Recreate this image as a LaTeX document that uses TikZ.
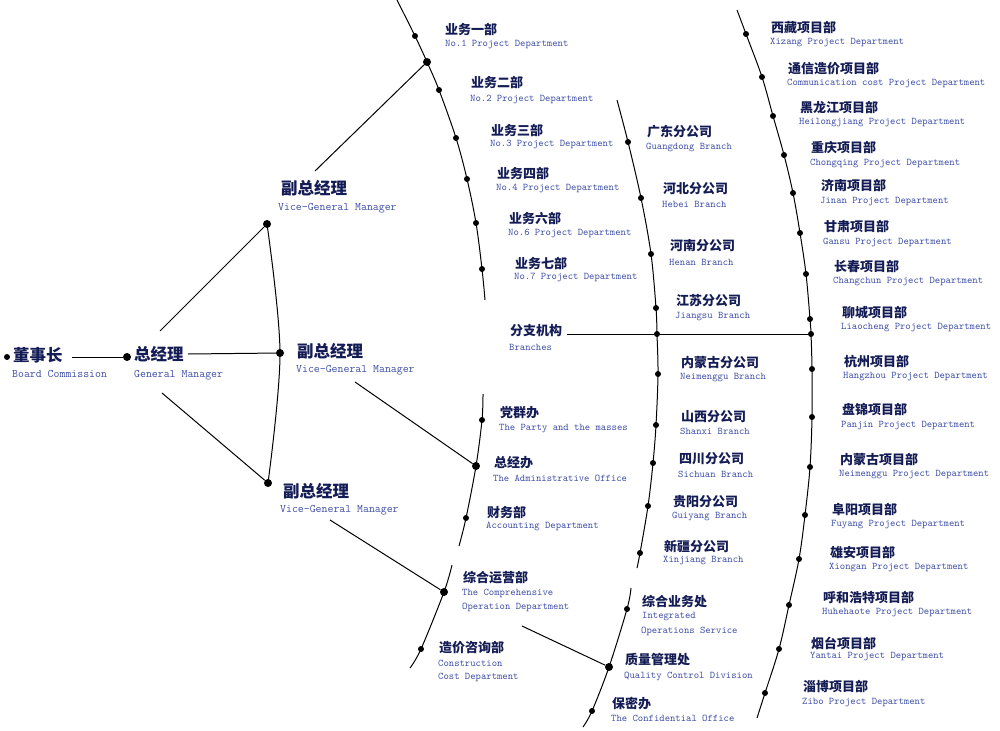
\documentclass[tikz,border=0pt]{standalone}
\usepackage{fontspec}
\newfontfamily\cjk{Noto Sans CJK SC}
\definecolor{zhc}{RGB}{20,28,85}
\definecolor{enc}{RGB}{62,78,165}
\begin{document}
\begin{tikzpicture}[x=1pt,y=-1pt,
 zh/.style={anchor=west,inner sep=0pt,font=\cjk\bfseries\fontsize{13}{13}\selectfont,text=zhc},
 zhbig/.style={anchor=west,inner sep=0pt,font=\cjk\bfseries\fontsize{16.5}{16.5}\selectfont,text=zhc},
 en/.style={anchor=west,inner sep=0pt,font=\ttfamily\fontsize{10.2}{10.2}\selectfont,text=enc},
 enbig/.style={anchor=west,inner sep=0pt,font=\ttfamily\fontsize{11.5}{11.5}\selectfont,text=enc},
 dot/.style={circle,fill=black,inner sep=0pt,minimum size=6pt},
 bigdot/.style={circle,fill=black,inner sep=0pt,minimum size=8pt},
 link/.style={line width=1pt},
 arc/.style={line width=1pt,smooth,tension=0.55}]
\useasboundingbox (0,0) rectangle (1000,730);

% ---------------- Board and general manager
\node[dot] (bdot) at (7,357) {};
\node[zhbig] (board) at (13,355) {董事长};
\node[enbig] (boarde) at (12,374) {Board Commission};
\coordinate (b1) at (72,357);
\node[bigdot] (gmdot) at (127,357) {};
\draw[link] (b1) -- (gmdot);
\node[zhbig] (gm) at (134,354) {总经理};
\node[enbig] (gme) at (134,375) {General Manager};
\coordinate (g1) at (188,354);
\coordinate (g2) at (160,331);
\coordinate (g3) at (162,393);

% ---------------- vice general managers
\node[bigdot] (v1dot) at (267,224) {};
\node[bigdot] (v2dot) at (280,353) {};
\node[bigdot] (v3dot) at (268,483) {};
\draw[arc] plot coordinates {(v1dot) (v2dot) (v3dot)};
\draw[link] (g1) -- (v2dot);
\draw[link] (g2) -- (v1dot);
\draw[link] (g3) -- (v3dot);

\node[zhbig] (vp1) at (281,188) {副总经理};
\node[enbig] (vp1e) at (278,208) {Vice-General Manager};
\node[zhbig] (vp2) at (297,351) {副总经理};
\node[enbig] (vp2e) at (296,370) {Vice-General Manager};
\node[zhbig] (vp3) at (283,491) {副总经理};
\node[enbig] (vp3e) at (280,510) {Vice-General Manager};
\coordinate (v1a) at (315,171);
\coordinate (v2a) at (355,382);
\coordinate (v3a) at (330,520);

% ---------------- business departments arc
\coordinate (ys) at (397,0);
\node[dot] (y1) at (415,36) {};
\node[bigdot] (yc) at (427,62) {};
\node[dot] (y2) at (439,90) {};
\node[dot] (y3) at (456,138) {};
\node[dot] (y4) at (467,179) {};
\node[dot] (y6) at (476,223) {};
\node[dot] (y7) at (482,269) {};
\coordinate (ye) at (485,300);
\draw[arc] plot coordinates {(ys) (y1) (yc) (y2) (y3) (y4) (y6) (y7) (ye)};
\draw[link] (v1a) -- (yc);

\node[zh] (t1) at (445,30) {业务一部};
\node[en] (t1e) at (445,44) {No.1 Project Department};
\node[zh] (t2) at (471,83) {业务二部};
\node[en] (t2e) at (470,99) {No.2 Project Department};
\node[zh] (t3) at (491,131) {业务三部};
\node[en] (t3e) at (490,144) {No.3 Project Department};
\node[zh] (t4) at (497,174) {业务四部};
\node[en] (t4e) at (496,188) {No.4 Project Department};
\node[zh] (t6) at (509,219) {业务六部};
\node[en] (t6e) at (508,233) {No.6 Project Department};
\node[zh] (t7) at (515,263) {业务七部};
\node[en] (t7e) at (514,277) {No.7 Project Department};

% ---------------- branches
\node[zh] (br) at (510,331) {分支机构};
\node[en] (bre) at (509,347) {Branches};
\coordinate (bra) at (567,334);

\coordinate (fs) at (617,100);
\node[dot] (f1) at (628,142) {};
\node[dot] (f2) at (641,198) {};
\node[dot] (f3) at (651,254) {};
\node[dot] (f4) at (656,308) {};
\node[dot] (fc) at (657,334) {};
\node[dot] (f5) at (658,374) {};
\node[dot] (f6) at (656,425) {};
\node[dot] (f7) at (653,463) {};
\node[dot] (f8) at (648,506) {};
\node[dot] (f9) at (640,553) {};
\coordinate (fe) at (637,568);
\draw[arc] plot coordinates {(fs) (f1) (f2) (f3) (f4) (fc) (f5) (f6) (f7) (f8) (f9) (fe)};

\node[zh] (s1) at (647,132) {广东分公司};
\node[en] (s1e) at (646,147) {Guangdong Branch};
\node[zh] (s2) at (663,189) {河北分公司};
\node[en] (s2e) at (662,204) {Hebei Branch};
\node[zh] (s3) at (670,246) {河南分公司};
\node[en] (s3e) at (669,262) {Henan Branch};
\node[zh] (s4) at (676,301) {江苏分公司};
\node[en] (s4e) at (675,317) {Jiangsu Branch};
\node[zh] (s5) at (681,363) {内蒙古分公司};
\node[en] (s5e) at (680,378) {Neimenggu Branch};
\node[zh] (s6) at (681,417) {山西分公司};
\node[en] (s6e) at (680,431) {Shanxi Branch};
\node[zh] (s7) at (679,459) {四川分公司};
\node[en] (s7e) at (678,474) {Sichuan Branch};
\node[zh] (s8) at (673,502) {贵阳分公司};
\node[en] (s8e) at (672,516) {Guiyang Branch};
\node[zh] (s9) at (664,547) {新疆分公司};
\node[en] (s9e) at (663,561) {Xinjiang Branch};

% ---------------- project departments (right arc)
\coordinate (ps) at (737,10);
\node[dot] (p1) at (746,34) {};
\node[dot] (p2) at (762,77) {};
\node[dot] (p3) at (773,116) {};
\node[dot] (p4) at (784,155) {};
\node[dot] (p5) at (793,193) {};
\node[dot] (p6) at (800,233) {};
\node[dot] (p7) at (806,274) {};
\node[dot] (p8) at (810,319) {};
\node[dot] (pc) at (811,334) {};
\node[dot] (p9) at (812,369) {};
\node[dot] (p10) at (812,417) {};
\node[dot] (p11) at (810,467) {};
\node[dot] (p12) at (805,515) {};
\node[dot] (p13) at (799,559) {};
\node[dot] (p14) at (789,605) {};
\node[dot] (p15) at (779,649) {};
\node[dot] (p16) at (765,693) {};
\coordinate (pe) at (757,718);
\draw[arc] plot coordinates {(ps) (p1) (p2) (p3) (p4) (p5) (p6) (p7) (p8) (pc) (p9) (p10) (p11) (p12) (p13) (p14) (p15) (p16) (pe)};
\draw[link] (bra) -- (fc) -- (pc);

\node[zh] (q1) at (771,28) {西藏项目部};
\node[en] (q1e) at (770,43) {Xizang Project Department};
\node[zh] (q2) at (788,69) {通信造价项目部};
\node[en] (q2e) at (787,83) {Communication cost Project Department};
\node[zh] (q3) at (800,108) {黑龙江项目部};
\node[en] (q3e) at (799,123) {Heilongjiang Project Department};
\node[zh] (q4) at (811,148) {重庆项目部};
\node[en] (q4e) at (810,163) {Chongqing Project Department};
\node[zh] (q5) at (821,186) {济南项目部};
\node[en] (q5e) at (820,202) {Jinan Project Department};
\node[zh] (q6) at (824,227) {甘肃项目部};
\node[en] (q6e) at (823,242) {Gansu Project Department};
\node[zh] (q7) at (834,267) {长春项目部};
\node[en] (q7e) at (833,281) {Changchun Project Department};
\node[zh] (q8) at (842,313) {聊城项目部};
\node[en] (q8e) at (841,328) {Liaocheng Project Department};
\node[zh] (q9) at (844,362) {杭州项目部};
\node[en] (q9e) at (843,377) {Hangzhou Project Department};
\node[zh] (q10) at (842,410) {盘锦项目部};
\node[en] (q10e) at (841,426) {Panjin Project Department};
\node[zh] (q11) at (840,460) {内蒙古项目部};
\node[en] (q11e) at (839,475) {Neimenggu Project Department};
\node[zh] (q12) at (832,510) {阜阳项目部};
\node[en] (q12e) at (831,525) {Fuyang Project Department};
\node[zh] (q13) at (830,553) {雄安项目部};
\node[en] (q13e) at (829,568) {Xiongan Project Department};
\node[zh] (q14) at (823,598) {呼和浩特项目部};
\node[en] (q14e) at (822,613) {Huhehaote Project Department};
\node[zh] (q15) at (811,643) {烟台项目部};
\node[en] (q15e) at (810,657) {Yantai Project Department};
\node[zh] (q16) at (803,687) {淄博项目部};
\node[en] (q16e) at (802,703) {Zibo Project Department};

% ---------------- party / admin / accounting
\coordinate (ds) at (483,394);
\node[dot] (d1) at (482,420) {};
\node[bigdot] (dc) at (476,466) {};
\node[dot] (d3) at (466,518) {};
\coordinate (de) at (459,546);
\draw[arc] plot coordinates {(ds) (d1) (dc) (d3) (de)};
\draw[link] (v2a) -- (dc);

\node[zh] (o1) at (500,413) {党群办};
\node[en] (o1e) at (499,429) {The Party and the masses};
\node[zh] (o2) at (494,463) {总经办};
\node[en] (o2e) at (493,478) {The Administrative Office};
\node[zh] (o3) at (487,512) {财务部};
\node[en] (o3e) at (486,526) {Accounting Department};

% ---------------- comprehensive operation
\coordinate (zs) at (452,565);
\node[bigdot] (zc) at (444,592) {};
\node[dot] (z2) at (421,649) {};
\coordinate (ze) at (410,668);
\draw[arc] plot coordinates {(zs) (zc) (z2) (ze)};
\draw[link] (v3a) -- (zc);

\node[zh] (c1) at (463,578) {综合运营部};
\node[en] (c1e) at (462,593) {The Comprehensive};
\node[en] (c1f) at (462,607) {Operation Department};
\node[zh] (c2) at (439,648) {造价咨询部};
\node[en] (c2e) at (438,663) {Construction};
\node[en] (c2f) at (438,677) {Cost Department};
\coordinate (za) at (522,626);

% ---------------- quality control
\coordinate (ks) at (631,588);
\node[dot] (k1) at (627,609) {};
\node[bigdot] (kc) at (609,667) {};
\node[dot] (k3) at (592,711) {};
\coordinate (ke) at (583,727);
\draw[arc] plot coordinates {(ks) (k1) (kc) (k3) (ke)};
\draw[link] (za) -- (kc);

\node[zh] (m1) at (642,602) {综合业务处};
\node[en] (m1e) at (642,617) {Integrated};
\node[en] (m1f) at (641,631) {Operations Service};
\node[zh] (m2) at (625,660) {质量管理处};
\node[en] (m2e) at (624,676) {Quality Control Division};
\node[zh] (m3) at (612,704) {保密办};
\node[en] (m3e) at (611,718) {The Confidential Office};
\end{tikzpicture}
\end{document}
